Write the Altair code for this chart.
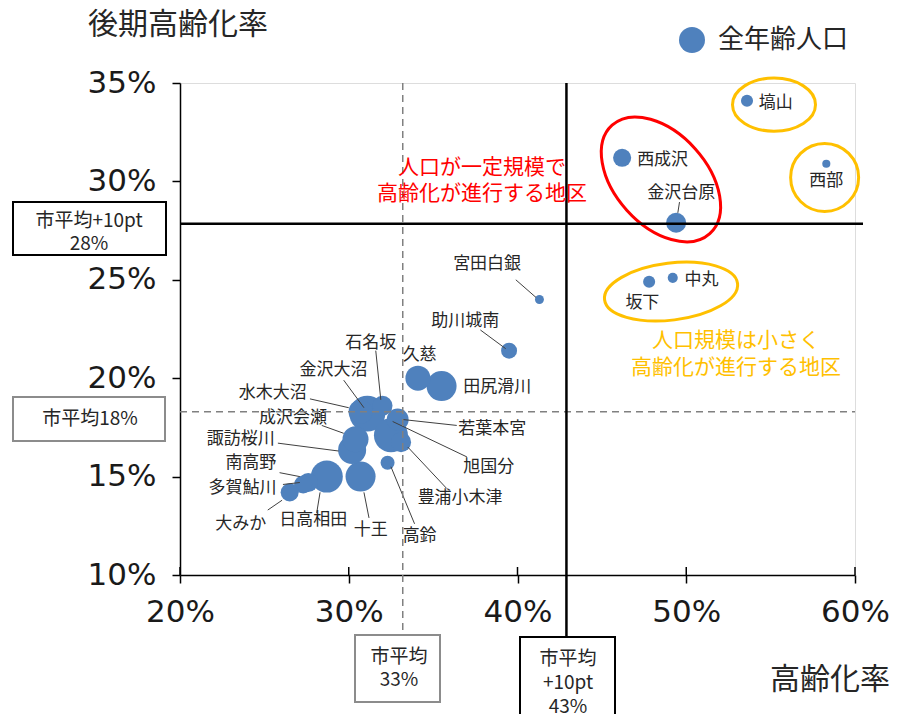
import altair as alt
import pandas as pd

# ---- data ----
names = ["塙山", "西部", "西成沢", "金沢台原", "中丸", "坂下", "宮田白銀", "助川城南",
         "久慈", "田尻滑川", "石名坂", "金沢大沼", "水木大沼", "若葉本宮", "旭国分",
         "豊浦小木津", "成沢会瀬", "諏訪桜川", "高鈴", "十王", "日高相田", "南高野",
         "多賀鮎川", "大みか"]
aging = [53.6, 58.3, 46.2, 49.4, 49.2, 47.8, 41.3, 39.5,
         34.1, 35.5, 32.0, 31.1, 30.7, 32.9, 32.5,
         33.1, 30.4, 30.2, 32.3, 30.7, 28.7, 27.6,
         27.3, 26.5]
late_aging = [34.1, 30.9, 31.2, 27.9, 25.1, 24.9, 24.0, 21.4,
              20.0, 19.6, 18.6, 18.2, 18.3, 17.9, 17.1,
              16.75, 16.9, 16.35, 15.7, 15.0, 15.0, 14.7,
              14.6, 14.2]
population = [2000, 900, 4500, 5500, 1400, 2000, 1100, 3500,
              8600, 12400, 5500, 17800, 7900, 6600, 15900,
              5500, 9300, 10800, 2700, 12400, 14100, 5000,
              4500, 4500]

# label anchor positions (data units)
label_x = [55.3, 58.3, 48.6, 49.7, 50.9, 47.4, 38.2, 36.9,
           34.2, 38.8, 31.3, 29.1, 25.5, 38.5, 38.3,
           36.6, 26.7, 23.6, 34.2, 31.3, 27.9, 24.2,
           23.7, 23.6]
label_y = [34.0, 30.0, 31.1, 29.4, 25.0, 23.8, 25.8, 22.9,
           21.2, 19.55, 21.8, 20.4, 19.25, 17.4, 15.5,
           13.9, 18.0, 16.9, 12.0, 12.3, 12.8, 15.7,
           14.4, 12.6]

# leader lines (data units)
leader_x1 = [39.9, 37.8, 31.6, 29.7, 27.7, 28.4, 25.8, 25.9, 26.1, 25.2, 28.1, 31.2, 33.9, 35.8, 37.0, 36.4, 49.6]
leader_y1 = [25.0, 22.45, 21.4, 19.9, 18.95, 17.6, 16.7, 15.2, 14.6, 13.3, 13.15, 12.9, 12.6, 14.4, 16.0, 17.6, 28.95]
leader_x2 = [41.1, 39.3, 31.9, 30.9, 30.0, 29.7, 29.4, 27.1, 27.1, 26.05, 28.3, 30.9, 32.5, 33.5, 32.6, 33.2, 49.5]
leader_y2 = [24.1, 21.5, 18.9, 18.5, 18.5, 17.2, 16.3, 15.0, 14.7, 13.8, 14.2, 14.2, 15.5, 16.5, 17.8, 17.9, 28.4]

x_ticks = [20, 30, 40, 50, 60]
y_ticks = [10, 15, 20, 25, 30, 35]
avg_x, avg_x10 = 33.2, 42.9
avg_y, avg_y10 = 18.3, 27.85

W, H = 675, 492
JP = "Noto Sans CJK JP"
NUM = "DejaVu Sans"
BLUE = "#4F81BD"
RED = "#FF0000"
YEL = "#FFC000"

df = pd.DataFrame({"name": names, "aging": aging, "late": late_aging, "pop": population,
                   "lx": label_x, "ly": label_y})
lead = pd.DataFrame({"x1": leader_x1, "y1": leader_y1, "x2": leader_x2, "y2": leader_y2})
ticks_df = pd.DataFrame({"t": x_ticks})
one = pd.DataFrame({"a": [0]})

xscale = alt.Scale(domain=[20, 60], nice=False, zero=False)
yscale = alt.Scale(domain=[10, 35], nice=False, zero=False)

xaxis = alt.Axis(values=x_ticks, labelExpr="datum.value + '%'", labelFont=NUM, labelFontSize=31,
                 labelColor="#1a1a1a", tickSize=8, tickColor="black", tickWidth=1.5,
                 domainColor="black", domainWidth=1.5, labelPadding=14, labelFlush=False,
                 labelOverlap=False, title=None, grid=False)
yaxis = alt.Axis(values=y_ticks, labelExpr="datum.value + '%'", labelFont=NUM, labelFontSize=31,
                 labelColor="#1a1a1a", tickSize=8, tickColor="black", tickWidth=1.5,
                 domainColor="black", domainWidth=1.5, labelPadding=16, labelFlush=False,
                 labelOverlap=False, title=None, grid=False)

bubbles = alt.Chart(df).mark_circle(color=BLUE, opacity=1).encode(
    x=alt.X("aging:Q", scale=xscale, axis=xaxis),
    y=alt.Y("late:Q", scale=yscale, axis=yaxis),
    size=alt.Size("pop:Q", scale=alt.Scale(domain=[0, 16000], range=[0, 1164]), legend=None),
    order=alt.Order("pop:Q", sort="descending"),
)

inner_ticks = alt.Chart(ticks_df).mark_rule(color="black", strokeWidth=1.5).encode(
    x="t:Q", y=alt.value(H - 8), y2=alt.value(H))

leaders = alt.Chart(lead).mark_rule(color="#404040", strokeWidth=1).encode(
    x="x1:Q", y="y1:Q", x2="x2:Q", y2="y2:Q")

labels = alt.Chart(df).mark_text(font=JP, fontSize=17, color="#262626").encode(
    x="lx:Q", y="ly:Q", text="name:N")


def ellipse_path(r):
    k = 0.5523
    return (f"M 1 0 C 1 {k*r:.4f} {k:.4f} {r:.4f} 0 {r:.4f} "
            f"C {-k:.4f} {r:.4f} -1 {k*r:.4f} -1 0 "
            f"C -1 {-k*r:.4f} {-k:.4f} {-r:.4f} 0 {-r:.4f} "
            f"C {k:.4f} {-r:.4f} 1 {-k*r:.4f} 1 0 Z")


def ellipse(cx, cy, w, ratio, angle, color):
    return alt.Chart(one).mark_point(shape=ellipse_path(ratio), filled=False, stroke=color,
                                     strokeWidth=3, opacity=1).encode(
        x=alt.X(datum=cx, type="quantitative"),
        y=alt.Y(datum=cy, type="quantitative"),
        size=alt.value(w * w),
        angle=alt.value(angle),
    )


ell = (ellipse(48.5, 30.1, 146, 0.63, 48, RED)
       + ellipse(55.2, 33.9, 83, 0.64, 0, YEL)
       + ellipse(58.2, 30.2, 68, 1.0, 0, YEL)
       + ellipse(49.1, 24.4, 134, 0.425, 353, YEL))

vdash = alt.Chart(one).mark_rule(color="#808080", strokeWidth=1.5, strokeDash=[7, 5]).encode(
    x=alt.X(datum=avg_x, type="quantitative"), y=alt.value(0), y2=alt.value(552))
hdash = alt.Chart(one).mark_rule(color="#808080", strokeWidth=1.5, strokeDash=[7, 5]).encode(
    y=alt.Y(datum=avg_y, type="quantitative"), x=alt.value(0), x2=alt.value(W))
vsolid = alt.Chart(one).mark_rule(color="black", strokeWidth=2.5).encode(
    x=alt.X(datum=avg_x10, type="quantitative"), y=alt.value(0), y2=alt.value(554))
hsolid = alt.Chart(one).mark_rule(color="black", strokeWidth=2.5).encode(
    y=alt.Y(datum=avg_y10, type="quantitative"), x=alt.value(0), x2=alt.value(W + 8))


def box(x1, x2, y1, y2, color):
    return alt.Chart(one).mark_rect(fill="white", stroke=color, strokeWidth=2).encode(
        x=alt.value(x1), x2=alt.value(x2), y=alt.value(y1), y2=alt.value(y2))


def txt(s, x, y, size=19, color="#262626", align="center", lh=None, font=JP):
    kw = dict(text=s, font=font, fontSize=size, color=color, align=align,
              baseline="middle", lineBreak="\n")
    if lh is not None:
        kw["lineHeight"] = lh
    return alt.Chart(one).mark_text(**kw).encode(x=alt.value(x), y=alt.value(y))


boxes = (box(-167, -14, 119, 172, "black") + txt("市平均+10pt\n28%", -91, 138, lh=23)
         + box(-167, -15, 314, 358, "#8c8c8c") + txt("市平均18%", -90, 336)
         + box(175, 260, 552, 619, "#8c8c8c") + txt("市平均\n33%", 219, 574, lh=23)
         + box(340, 435, 554, 660, "black") + txt("市平均\n+10pt\n43%", 388, 576, lh=24))

notes = (txt("人口が一定規模で\n高齢化が進行する地区", 302, 85, size=21, color=RED, lh=26)
         + txt("人口規模は小さく\n高齢化が進行する地区", 556, 258, size=21, color=YEL, lh=27))

titles = (txt("後期高齢化率", -92, -58, size=30, align="left")
          + txt("高齢化率", 590, 597, size=30, align="left"))

legend = (alt.Chart(one).mark_circle(color=BLUE, opacity=1).encode(
    x=alt.value(512), y=alt.value(-43), size=alt.value(676))
    + txt("全年齢人口", 538, -43, size=26, align="left"))

chart = alt.layer(
    bubbles, inner_ticks, leaders, labels, ell, vdash, hdash, vsolid, hsolid, boxes, notes,
    titles, legend
).properties(
    width=W, height=H,
    padding={"left": 172, "top": 75, "right": 34, "bottom": 139},
    autosize=alt.AutoSizeParams(type="none"),
).configure_view(
    stroke="#4A6BA5", strokeWidth=1.5
).configure(background="white")

chart.save("out.html", embed_options={"renderer": "svg", "actions": False})
